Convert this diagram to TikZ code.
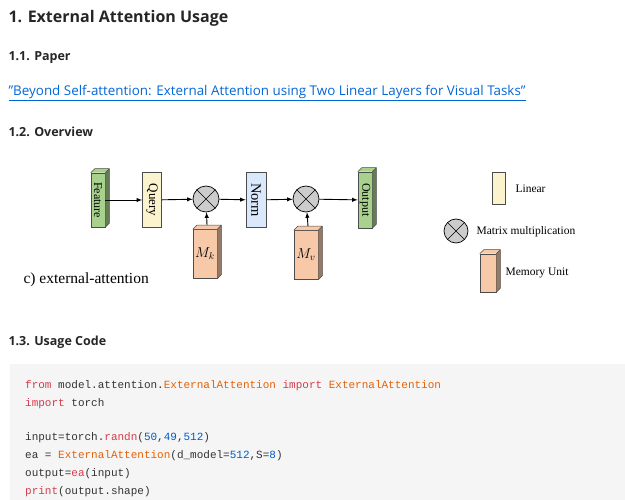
\documentclass[tikz,border=0pt]{standalone}
\usepackage{fontspec}
\usetikzlibrary{calc}
\setmainfont{Open Sans}
\newfontfamily\serifo{Liberation Serif}
\newfontfamily\mono{Liberation Mono}
\begin{document}
\begin{tikzpicture}[x=1pt,y=-1pt,
  h1/.style={anchor=west,font=\fontsize{16}{18}\selectfont\bfseries,text=black!85},
  h2/.style={anchor=west,font=\fontsize{12.5}{14}\selectfont\bfseries,text=black!85},
  blk/.style={draw=black!70,line width=0.6pt,inner sep=0pt,minimum width=#1},
  arr/.style={-latex,line width=0.9pt},
  mul/.style={circle,draw=black,fill=black!20,line width=0.7pt,minimum size=26pt,inner sep=0pt},
  cl/.style={anchor=west,font=\mono\fontsize{11}{12}\selectfont,text=black!80,inner sep=0pt}]
\definecolor{gfeat}{HTML}{A9D18E}\definecolor{yq}{HTML}{FBF3CE}
\definecolor{bn}{HTML}{DAE8FC}\definecolor{mem}{HTML}{F8C9A9}
\definecolor{kw}{HTML}{D73A49}\definecolor{cls}{HTML}{E36209}\definecolor{num}{HTML}{005CC5}
\definecolor{lnk}{HTML}{0366D6}
\useasboundingbox (0,0) rectangle (625,500);
\node[h1] (t1) at (5,18) {1. External Attention Usage};
\node[h2] (t2) at (5,58) {1.1. Paper};
\node[anchor=west,font=\fontsize{13.4}{15}\selectfont,text=lnk] (lk) at (5,93) {\underline{\symbol{34}Beyond Self-attention: External Attention using Two Linear Layers for Visual Tasks\symbol{34}}};
\node[h2] (t3) at (5,132) {1.2. Overview};
% boxes
\newcommand\mycube[2]{\fill[#2] (#1.north west) -- ++(4,-4) -- ($(#1.north east)+(4,-4)$) -- (#1.north east) -- cycle;
 \fill[#2!60!black] (#1.north east) -- ++(4,-4) -- ($(#1.south east)+(4,-4)$) -- (#1.south east) -- cycle;
 \draw[black!70,line width=0.5pt] (#1.north west) -- ++(4,-4) -- ($(#1.north east)+(4,-4)$) -- ($(#1.south east)+(4,-4)$) -- (#1.south east) (#1.north east) -- ++(4,-4);}
\node[blk=14pt,minimum height=54pt,fill=gfeat] (fe) at (98,200) {\rotatebox{-90}{\serifo\fontsize{12}{12}\selectfont Feature}};
\node[blk=19pt,minimum height=55pt,fill=yq] (qu) at (152,200) {\rotatebox{-90}{\serifo\fontsize{13}{13}\selectfont Query}};
\node[mul] (m1) at (206,199) {};
\node[blk=20pt,minimum height=55pt,fill=bn] (no) at (256,200) {\rotatebox{-90}{\serifo\fontsize{14.5}{14}\selectfont Norm}};
\node[mul] (m2) at (306,199) {};
\node[blk=14pt,minimum height=56pt,fill=gfeat] (ou) at (365,200) {\rotatebox{-90}{\serifo\fontsize{12}{12}\selectfont Output}};
\node[blk=24pt,minimum height=49pt,fill=mem,font=\fontsize{14}{14}\selectfont] (mk) at (205,254) {$M_k$};
\node[blk=24pt,minimum height=49pt,fill=mem,font=\fontsize{14}{14}\selectfont] (mv) at (306,255) {$M_v$};
\mycube{fe}{gfeat}\mycube{ou}{gfeat}\mycube{mk}{mem}\mycube{mv}{mem}
\foreach \c in {m1,m2}{\draw[line width=0.7pt] (\c.north west) -- (\c.south east) (\c.north east) -- (\c.south west);}
\draw[arr] (fe) -- (qu); \draw[arr] (qu) -- (m1); \draw[arr] (m1) -- (no);
\draw[arr] (no) -- (m2); \draw[arr] (m2) -- (ou);
\draw[arr] ($(mk.north)+(2,-4)$) -- (m1); \draw[arr] ($(mv.north)+(2,-4)$) -- (m2);
\node[anchor=west,font=\serifo\fontsize{15.5}{16}\selectfont] (cap) at (20,280) {c) external-attention};
% legend
\node[blk=13pt,minimum height=32pt,fill=yq] (lg1) at (499,188) {};
\node[anchor=west,font=\serifo\fontsize{11.5}{12}\selectfont] (lt1) at (512,189) {Linear};
\node[mul,minimum size=24pt] (lg2) at (456,231) {};
\draw[line width=0.7pt] (lg2.north west) -- (lg2.south east) (lg2.north east) -- (lg2.south west);
\node[anchor=west,font=\serifo\fontsize{11.5}{12}\selectfont] (lt2) at (473,232) {Matrix multiplication};
\node[blk=16pt,minimum height=38pt,fill=mem] (lg3) at (488,273) {};
\mycube{lg3}{mem}
\node[anchor=west,font=\serifo\fontsize{11.5}{12}\selectfont] (lt3) at (502,273) {Memory Unit};
\node[h2] (t4) at (5,342) {1.3. Usage Code};
\fill[black!4] (10,364) rectangle (625,500);
\node[cl] (c1) at (25,386) {\textcolor{kw}{from} model.attention.\textcolor{cls}{ExternalAttention} \textcolor{kw}{import} \textcolor{cls}{ExternalAttention}};
\node[cl] (c2) at (25,404) {\textcolor{kw}{import} torch};
\node[cl] (c3) at (25,438) {input=torch.\textcolor{kw}{randn}(\textcolor{num}{50},\textcolor{num}{49},\textcolor{num}{512})};
\node[cl] (c4) at (25,456) {ea = \textcolor{cls}{ExternalAttention}(d\_model=\textcolor{num}{512},S=\textcolor{num}{8})};
\node[cl] (c5) at (25,474) {output=\textcolor{kw}{ea}(input)};
\node[cl] (c6) at (25,492) {\textcolor{kw}{print}(output.shape)};
\end{tikzpicture}
\end{document}
